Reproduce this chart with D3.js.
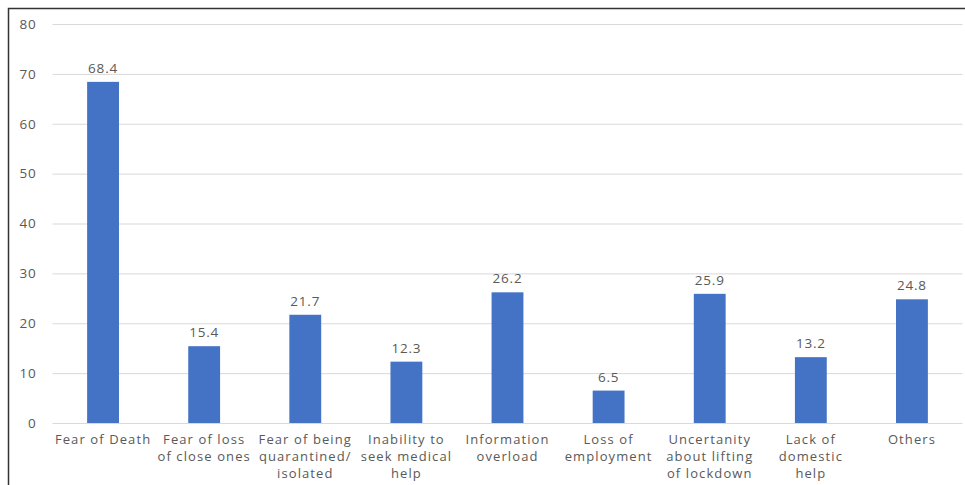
<!DOCTYPE html>
<html lang="en">
<head>
<meta charset="utf-8">
<style type="text/css">
    body { margin: 0; background: #fff; }
    .tick text, .label, .cat { font-family: "Open Sans", "Liberation Sans", sans-serif; fill: #595959; }
</style>
</head>
<body>
<svg width="965" height="485"></svg>
<script src="https://d3js.org/d3.v7.min.js"></script>
<script type="text/javascript">

    // categories (each line of the axis label), values, ticks
    var categories = [
        ["Fear of Death"],
        ["Fear of loss", "of close ones"],
        ["Fear of being", "quarantined/", "isolated"],
        ["Inability to", "seek medical", "help"],
        ["Information", "overload"],
        ["Loss of", "employment"],
        ["Uncertanity", "about lifting", "of lockdown"],
        ["Lack of", "domestic", "help"],
        ["Others"]
    ];
    var values = [68.4, 15.4, 21.7, 12.3, 26.2, 6.5, 25.9, 13.2, 24.8];
    var yTicks = [0, 10, 20, 30, 40, 50, 60, 70, 80];

    var svg = d3.select("svg");

    // frame: top and left edges only
    svg.append("path")
        .attr("d", "M8.5,485 L8.5,8.5 L965,8.5")
        .attr("fill", "none")
        .attr("stroke", "#333")
        .attr("stroke-width", 1.5);

    var plotLeft = 52.5, plotRight = 962.5, plotTop = 24, plotBottom = 423;

    var x = d3.scaleBand()
        .domain(d3.range(categories.length))
        .range([plotLeft, plotRight])
        .paddingInner(0.685)
        .paddingOuter(0.3425);

    var y = d3.scaleLinear().domain([0, 80]).range([plotBottom, plotTop]);

    // grid + y labels
    var yAxis = svg.append("g")
        .attr("transform", "translate(" + plotLeft + ",0)")
        .call(d3.axisLeft(y).tickValues(yTicks).tickSize(-(plotRight - plotLeft)).tickPadding(16));
    yAxis.select(".domain").remove();
    yAxis.selectAll(".tick line").attr("stroke", "#d9d9d9").attr("stroke-width", 1);
    yAxis.selectAll(".tick text").attr("font-size", 13.5).attr("letter-spacing", 0.8);

    // bars
    svg.selectAll(".bar")
        .data(values)
        .enter()
        .append("rect")
        .attr("class", "bar")
        .attr("x", function (d, i) { return x(i); })
        .attr("width", x.bandwidth())
        .attr("y", function (d) { return y(d); })
        .attr("height", function (d) { return y(0) - y(d); })
        .attr("fill", "#4472C4");

    // value labels
    svg.selectAll(".label")
        .data(values)
        .enter()
        .append("text")
        .attr("class", "label")
        .attr("x", function (d, i) { return x(i) + x.bandwidth() / 2; })
        .attr("y", function (d) { return y(d) - 9; })
        .attr("text-anchor", "middle")
        .attr("font-size", 13.5)
        .attr("letter-spacing", 0.8)
        .text(function (d) { return d; });

    // category labels
    var cat = svg.selectAll(".cat")
        .data(categories)
        .enter()
        .append("text")
        .attr("class", "cat")
        .attr("text-anchor", "middle")
        .attr("font-size", 13)
        .attr("letter-spacing", 1.1)
        .attr("transform", function (d, i) {
            return "translate(" + (x(i) + x.bandwidth() / 2) + "," + (plotBottom + 21) + ")";
        });

    cat.selectAll("tspan")
        .data(function (d) { return d; })
        .enter()
        .append("tspan")
        .attr("x", 0)
        .attr("dy", function (d, i) { return i ? 17 : 0; })
        .text(function (d) { return d; });

</script>
</body>
</html>
